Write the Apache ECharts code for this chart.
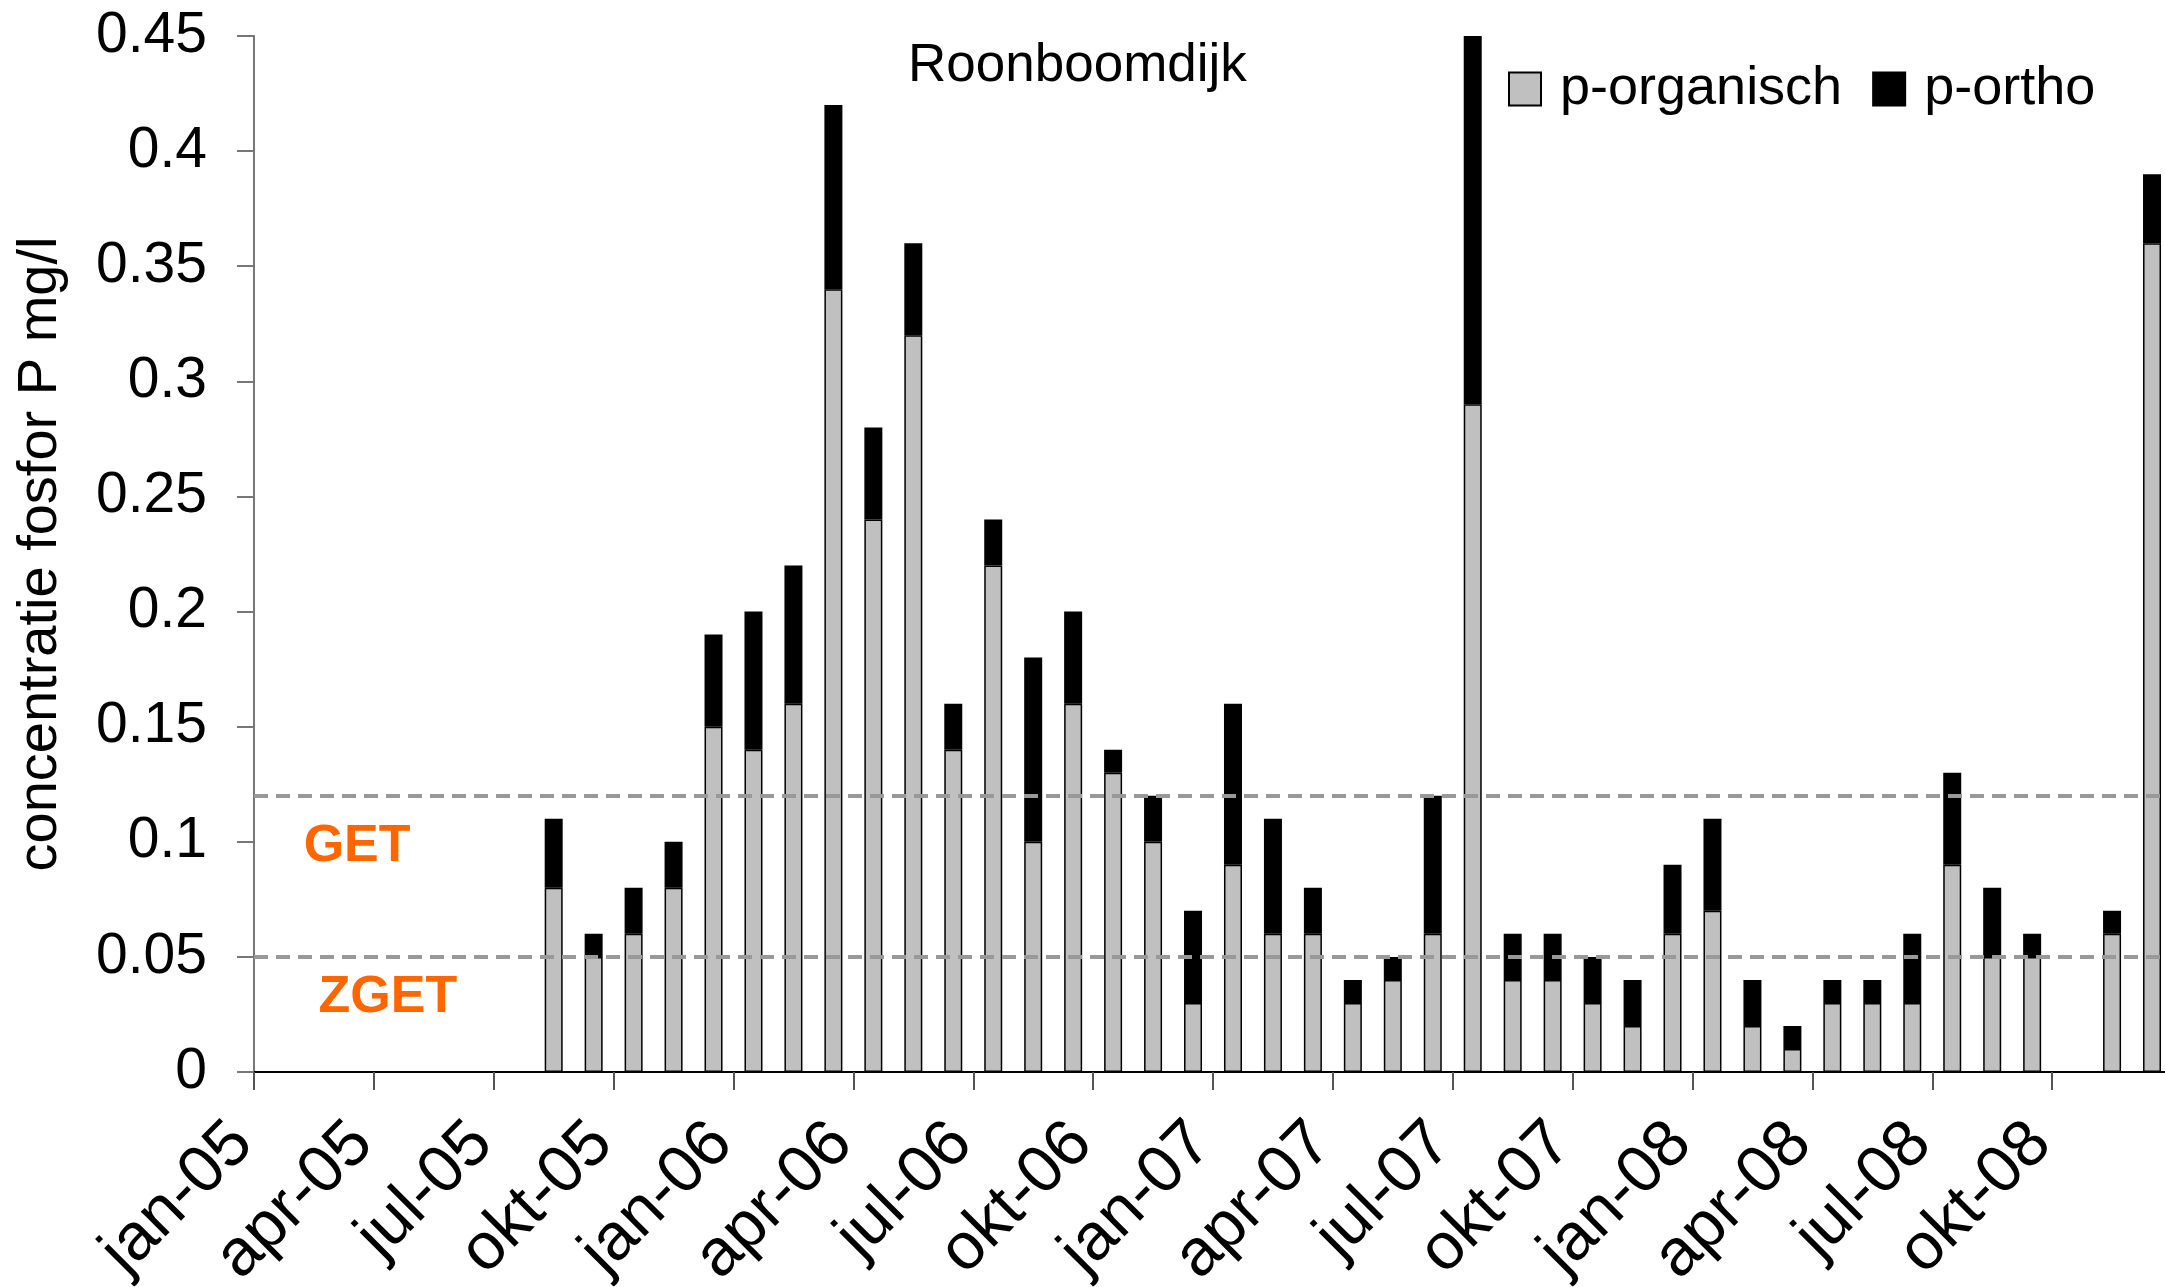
<!DOCTYPE html>
<html>
<head>
<meta charset="utf-8">
<script src="https://cdn.jsdelivr.net/npm/echarts@6/dist/echarts.min.js"></script>
<style>
  html, body { margin: 0; padding: 0; background: #fff; }
  #vis { width: 2165px; height: 1287px; }
</style>
</head>
<body>
<div id="vis"></div>
<script>
// months on the axis, jan-05 .. dec-08
const months = [
  'jan-05', 'feb-05', 'mrt-05', 'apr-05', 'mei-05', 'jun-05', 'jul-05', 'aug-05', 'sep-05', 'okt-05', 'nov-05', 'dec-05',
  'jan-06', 'feb-06', 'mrt-06', 'apr-06', 'mei-06', 'jun-06', 'jul-06', 'aug-06', 'sep-06', 'okt-06', 'nov-06', 'dec-06',
  'jan-07', 'feb-07', 'mrt-07', 'apr-07', 'mei-07', 'jun-07', 'jul-07', 'aug-07', 'sep-07', 'okt-07', 'nov-07', 'dec-07',
  'jan-08', 'feb-08', 'mrt-08', 'apr-08', 'mei-08', 'jun-08', 'jul-08', 'aug-08', 'sep-08', 'okt-08', 'nov-08', 'dec-08'
]

// labels shown under every third month
const tickLabels = [
  'jan-05', 'apr-05', 'jul-05', 'okt-05', 'jan-06', 'apr-06', 'jul-06', 'okt-06',
  'jan-07', 'apr-07', 'jul-07', 'okt-07', 'jan-08', 'apr-08', 'jul-08', 'okt-08'
]

const pOrganisch = [
  null, null, null, null, null, null, null, 0.08, 0.05, 0.06, 0.08, 0.15,
  0.14, 0.16, 0.34, 0.24, 0.32, 0.14, 0.22, 0.10, 0.16, 0.13, 0.10, 0.03,
  0.09, 0.06, 0.06, 0.03, 0.04, 0.06, 0.29, 0.04, 0.04, 0.03, 0.02, 0.06,
  0.07, 0.02, 0.01, 0.03, 0.03, 0.03, 0.09, 0.05, 0.05, null, 0.06, 0.36
]

const pOrtho = [
  null, null, null, null, null, null, null, 0.03, 0.01, 0.02, 0.02, 0.04,
  0.06, 0.06, 0.08, 0.04, 0.04, 0.02, 0.02, 0.08, 0.04, 0.01, 0.02, 0.04,
  0.07, 0.05, 0.02, 0.01, 0.01, 0.06, 0.16, 0.02, 0.02, 0.02, 0.02, 0.03,
  0.04, 0.02, 0.01, 0.01, 0.01, 0.03, 0.04, 0.03, 0.01, null, 0.01, 0.03
]

const normLevels = [0.12, 0.05]

const FONT = 'Liberation Sans, Arial, sans-serif'

const vis = document.getElementById('vis')
const chart = echarts.init(vis, null, { renderer: 'canvas' })

const barStyle = (color) => ({
  color,
  borderColor: '#000',
  borderWidth: 1.5
})

const options = {
  animation: false,
  backgroundColor: '#fff',
  textStyle: { fontFamily: FONT, color: '#000' },
  title: {
    text: 'Roonboomdijk',
    left: 908,
    top: 40,
    padding: 0,
    textStyle: { fontFamily: FONT, fontSize: 53, fontWeight: 'normal', color: '#000' }
  },
  legend: {
    left: 1508,
    top: 62,
    padding: 0,
    icon: 'rect',
    itemWidth: 32,
    itemHeight: 33,
    itemGap: 30,
    textStyle: { fontFamily: FONT, fontSize: 54, color: '#000', padding: [0, 0, 0, 14] },
    data: ['p-organisch', 'p-ortho']
  },
  // labels run off the bottom edge like in the original, so don't shrink the grid
  grid: { left: 254, top: 36, bottom: 215, right: -7, outerBoundsMode: 'none', containLabel: false },
  xAxis: [
    {
      type: 'category',
      data: months,
      boundaryGap: true,
      axisLine: { lineStyle: { color: '#000', width: 2 } },
      axisTick: { show: false },
      axisLabel: { show: false },
      splitLine: { show: false }
    },
    {
      type: 'value',
      position: 'bottom',
      min: 0,
      max: 48,
      interval: 3,
      axisLine: { show: false },
      axisTick: { show: true, length: 18, lineStyle: { color: '#555', width: 2 } },
      splitLine: { show: false },
      axisLabel: {
        rotate: 45,
        margin: 50,
        padding: [0, 16, 0, 0],
        fontFamily: FONT,
        fontSize: 66,
        color: '#000',
        formatter: (v) => tickLabels[v / 3] || ''
      }
    }
  ],
  yAxis: {
    type: 'value',
    min: 0,
    max: 0.45,
    interval: 0.05,
    name: 'concentratie fosfor P mg/l',
    nameLocation: 'middle',
    nameGap: 185,
    nameTextStyle: { fontFamily: FONT, fontSize: 56, color: '#000' },
    axisLine: { show: true, lineStyle: { color: '#777', width: 2 } },
    axisTick: { show: true, length: 17, lineStyle: { color: '#777', width: 2 } },
    splitLine: { show: false },
    axisLabel: { margin: 47, fontFamily: FONT, fontSize: 57, color: '#000' }
  },
  series: [
    {
      name: 'p-organisch',
      type: 'bar',
      stack: 'p',
      xAxisIndex: 0,
      barWidth: 18,
      data: pOrganisch,
      itemStyle: barStyle('#c0c0c0'),
      markLine: {
        silent: true,
        symbol: 'none',
        label: { show: false },
        lineStyle: { color: '#999', width: 4, type: [14, 8] },
        data: normLevels.map(v => ({ yAxis: v }))
      }
    },
    {
      name: 'p-ortho',
      type: 'bar',
      stack: 'p',
      xAxisIndex: 0,
      barWidth: 18,
      data: pOrtho,
      itemStyle: barStyle('#000')
    }
  ]
}

chart.setOption(options)

// GET / ZGET captions placed in data space (months, mg/l)
const captions = [
  { text: 'GET', at: [2.58, 0.098] },
  { text: 'ZGET', at: [3.35, 0.0323] }
]
chart.setOption({
  graphic: captions.map(c => {
    const [x, y] = chart.convertToPixel({ xAxisIndex: 1, yAxisIndex: 0 }, c.at)
    return {
      type: 'text',
      x,
      y,
      style: {
        text: c.text,
        fill: '#ff6600',
        font: 'bold 52px ' + FONT,
        textAlign: 'center',
        textVerticalAlign: 'middle'
      }
    }
  })
})

window.addEventListener('resize', () => chart.resize())
</script>
</body>
</html>
